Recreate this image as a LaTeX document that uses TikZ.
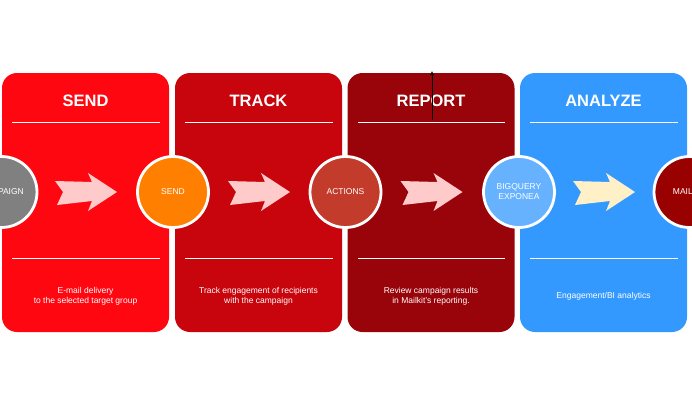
\documentclass[tikz,border=0pt]{standalone}
\usepackage{fontspec}
\setmainfont{Liberation Sans}
\usepackage{xcolor}
\usepackage{tikz}
\usetikzlibrary{positioning,arrows.meta,calc}

\definecolor{sendred}{HTML}{FF0711}
\definecolor{trackred}{HTML}{C8040C}
\definecolor{reportred}{HTML}{99030A}
\definecolor{analyzeblue}{HTML}{3399FF}
\definecolor{campgray}{HTML}{808080}
\definecolor{sendorange}{HTML}{FF8000}
\definecolor{actionred}{HTML}{C33B2B}
\definecolor{bqblue}{HTML}{66B2FF}
\definecolor{mailred}{HTML}{990000}
\definecolor{arrowpink}{HTML}{FFCACA}
\definecolor{arrowcream}{HTML}{FFF0C8}

\begin{document}
\begin{tikzpicture}[x=1pt, y=-1pt,
  panel/.style={rectangle, rounded corners=15pt, minimum width=167pt,
    minimum height=259pt, inner sep=0pt},
  heading/.style={text=white, font=\fontsize{16.5}{18}\selectfont\bfseries},
  blurb/.style={text=white, align=center, font=\fontsize{8.5}{10}\selectfont},
  stage/.style={circle, draw=white, line width=2.8pt, minimum size=71pt,
    inner sep=0pt, text=white, align=center, font=\fontsize{8.5}{10}\selectfont},
  rule/.style={white, line width=1pt}]
\useasboundingbox (0,0) rectangle (692,402);
\clip (0,0) rectangle (692,402);
% the four phase panels
\node[panel, fill=sendred] (send) at (85.5,202.5) {};
\node[panel, fill=trackred] (track) at (258.5,202.5) {};
\node[panel, fill=reportred] (report) at (431,202.5) {};
\node[panel, fill=analyzeblue] (analyze) at (603.5,202.5) {};
% white rules under the titles and above the texts
\draw[rule] ($(send.north west)+(10.5,50)$) -- ($(send.north east)+(-9.5,50)$);
\draw[rule] ($(send.south west)+(10.5,-74)$) -- ($(send.south east)+(-9.5,-74)$);
\draw[rule] ($(track.north west)+(10.5,50)$) -- ($(track.north east)+(-9.5,50)$);
\draw[rule] ($(track.south west)+(10.5,-74)$) -- ($(track.south east)+(-9.5,-74)$);
\draw[rule] ($(report.north west)+(10.5,50)$) -- ($(report.north east)+(-9.5,50)$);
\draw[rule] ($(report.south west)+(10.5,-74)$) -- ($(report.south east)+(-9.5,-74)$);
\draw[rule] ($(analyze.north west)+(10.5,50)$) -- ($(analyze.north east)+(-9.5,50)$);
\draw[rule] ($(analyze.south west)+(10.5,-74)$) -- ($(analyze.south east)+(-9.5,-74)$);
% titles
\node[heading] (sendtitle) at (85.5,101) {SEND};
\node[heading] (tracktitle) at (258.5,101) {TRACK};
\node[heading] (reporttitle) at (431,101) {REPORT};
\node[heading] (analyzetitle) at (603.5,101) {ANALYZE};
% descriptions
\node[blurb] (senddesc) at (85.5,296.5) {E-mail delivery\\to the selected target group};
\node[blurb] (trackdesc) at (258.5,296.5) {Track engagement of recipients\\with the campaign};
\node[blurb] (reportdesc) at (431,296.5) {Review campaign results\\in Mailkit's reporting.};
\node[blurb] (analyzedesc) at (603.5,296.5) {Engagement/BI analytics};
% block arrows, one per panel
\fill[arrowpink, shift={(86,192)}] (-31,-11) -- (6,-10) -- (2,-19) -- (31,0)
  -- (2,19) -- (6,9) -- (-29,13) -- (-23,0) -- cycle;
\fill[arrowpink, shift={(259,192)}] (-31,-11) -- (6,-10) -- (2,-19) -- (31,0)
  -- (2,19) -- (6,9) -- (-29,13) -- (-23,0) -- cycle;
\fill[arrowpink, shift={(431.5,192)}] (-31,-11) -- (6,-10) -- (2,-19) -- (31,0)
  -- (2,19) -- (6,9) -- (-29,13) -- (-23,0) -- cycle;
\fill[arrowcream, shift={(604,192)}] (-31,-11) -- (6,-10) -- (2,-19) -- (31,0)
  -- (2,19) -- (6,9) -- (-29,13) -- (-23,0) -- cycle;
% stage circles on the panel seams
\node[stage, fill=campgray] (campaign) at (1.5,192) {CAMPAIGN};
\node[stage, fill=sendorange] (sendstage) at (173,192) {SEND};
\node[stage, fill=actionred] (actions) at (345.5,192) {ACTIONS};
\node[stage, fill=bqblue] (bigquery) at (519,192) {BIGQUERY\\EXPONEA};
\node[stage, fill=mailred] (mailkit) at (689.5,192) {MAILKIT};
% stray marker over the report title
\coordinate (markbot) at (432,120);
\coordinate (marktop) at (432,71);
\draw[line width=0.6pt, -{Latex[length=4pt,width=4pt]}] (markbot) -- (marktop);
\end{tikzpicture}
\end{document}
